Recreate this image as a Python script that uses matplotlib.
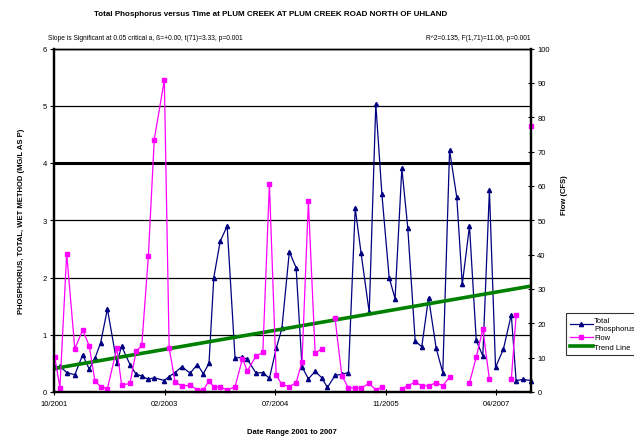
import numpy as np
import pandas as pd
import matplotlib
matplotlib.use("Agg")
import matplotlib.pyplot as plt
import matplotlib.dates as mdates
from matplotlib.lines import Line2D

plt.rcParams["font.family"] = ["Liberation Sans", "DejaVu Sans"]

# sample dates shared by both series
sample_dates = [
    "2001-10-04", "2001-10-28", "2001-11-28", "2002-01-04", "2002-02-09", "2002-03-11",
    "2002-04-06", "2002-05-02", "2002-06-02", "2002-07-15", "2002-08-06", "2002-09-13",
    "2002-10-11", "2002-11-06", "2002-12-06", "2003-01-02", "2003-02-17", "2003-03-11",
    "2003-04-07", "2003-05-08", "2003-06-15", "2003-07-18", "2003-08-14", "2003-09-09",
    "2003-10-01", "2003-10-30", "2003-12-01", "2004-01-06", "2004-02-09", "2004-03-02",
    "2004-04-11", "2004-05-12", "2004-06-11", "2004-07-12", "2004-08-07", "2004-09-10",
    "2004-10-11", "2004-11-07", "2004-12-06", "2005-01-06", "2005-02-05", "2005-03-03",
    "2005-04-07", "2005-05-08", "2005-06-07", "2005-07-08", "2005-08-04", "2005-09-10",
    "2005-10-10", "2005-11-07", "2005-12-10", "2006-01-06", "2006-02-06", "2006-03-05",
    "2006-04-08", "2006-05-08", "2006-06-08", "2006-07-13", "2006-08-12", "2006-09-12",
    "2006-10-15", "2006-11-09", "2006-12-12", "2007-01-12", "2007-02-11", "2007-03-13",
    "2007-04-10", "2007-05-16", "2007-06-21", "2007-07-13", "2007-08-13", "2007-09-19",
]

phosphorus = [
    0.43, 0.45, 0.34, 0.30, 0.65, 0.40, 0.59, 0.86, 1.45, 0.51, 0.80, 0.48,
    0.31, 0.28, 0.22, 0.25, 0.20, 0.27, 0.34, 0.44, 0.33, 0.48, 0.32, 0.50,
    2.00, 2.63, 2.90, 0.59, 0.61, 0.57, 0.33, 0.34, 0.24, 0.76, 1.11, 2.45,
    2.17, 0.44, 0.23, 0.36, 0.25, 0.08, 0.29, 0.31, 0.34, 3.21, 2.42, 1.39,
    5.03, 3.45, 2.00, 1.63, 3.91, 2.87, 0.89, 0.79, 1.65, 0.76, 0.34, 4.22,
    3.40, 1.88, 2.90, 0.90, 0.63, 3.53, 0.43, 0.75, 1.35, 0.20, 0.22, 0.20,
]

nan = np.nan
flow = [
    10.3, 1.3, 40.3, 12.6, 18.0, 13.4, 3.2, 1.6, 1.0, 12.7, 2.0, 2.5,
    11.8, 13.6, 39.5, 73.5, 90.8, 12.9, 3.0, 1.7, 2.0, 0.6, 0.6, 3.2,
    1.5, 1.5, 0.6, 1.5, 9.7, 6.1, 10.5, 11.5, 60.5, 4.9, 2.2, 1.6,
    2.7, 8.8, 55.5, 11.3, 12.6, nan, 21.4, 4.7, 1.2, 1.2, 1.2, 2.5,
    0.6, 1.5, nan, nan, 1.0, 1.8, 2.9, 1.8, 1.8, 2.7, 1.8, 4.4,
    nan, nan, 2.7, 10.2, 18.3, 3.7, nan, nan, 3.7, 22.3, nan, 77.3,
]

trend_dates = ["2001-10-01", "2007-09-19"]
trend_values = [0.41, 1.85]

tick_dates = ["2001-10-01", "2003-02-18", "2004-07-07", "2005-11-24", "2007-04-13"]
tick_labels = ["10/2001", "02/2003", "07/2004", "11/2005", "04/2007"]

dates = pd.to_datetime(sample_dates)
W, H = 634, 439
fig = plt.figure(figsize=(W / 100, H / 100), dpi=100)
ax = fig.add_axes([54 / W, 1 - 393 / H, 477 / W, 343.5 / H])
ax2 = ax.twinx()

blue = "#000080"
pink = "#FF00FF"
green = "#008000"

ax.set_ylim(0, 6)
ax.set_yticks(range(0, 7))
ax.grid(axis="y", color="black", linewidth=0.9)
ax.axhline(4, color="black", linewidth=2.2, zorder=1)
ax.set_axisbelow(True)

ax.plot(dates, phosphorus, color=blue, marker="^", markersize=3, linewidth=0.9,
        zorder=3, clip_on=False)
ax.plot(pd.to_datetime(trend_dates), trend_values, color=green, linewidth=2.6, zorder=4)

ax2.plot(dates, flow, color=pink, marker="s", markersize=2.8, linewidth=0.9, clip_on=False)
ax2.set_ylim(0, 100)
ax2.set_yticks(range(0, 101, 10))

ax.set_xlim(pd.Timestamp(trend_dates[0]), pd.Timestamp(trend_dates[1]))
ax.set_xticks(pd.to_datetime(tick_dates))
ax.set_xticklabels(tick_labels)

for a in (ax, ax2):
    for s in a.spines.values():
        s.set_linewidth(1.6)
        s.set_color("black")
    a.spines["top"].set_linewidth(1.0)

ax.tick_params(axis="y", direction="out", length=3, width=0.8, labelsize=5.5, pad=2)
ax.tick_params(axis="x", direction="inout", length=5, width=0.8, labelsize=5.5, pad=3)
ax2.tick_params(axis="y", direction="inout", length=5, width=0.8, labelsize=5.5, pad=2)

fig.text(271 / W, 1 - 14 / H,
         "Total Phosphorus versus Time at PLUM CREEK AT PLUM CREEK ROAD NORTH OF UHLAND",
         ha="center", va="center", fontsize=5.8, fontweight="bold")
fig.text(48 / W, 1 - 38 / H,
         "Slope is Significant at 0.05 critical a, \u00df=+0.00, t(71)=3.33, p=0.001",
         ha="left", va="center", fontsize=4.8)
fig.text(531 / W, 1 - 38 / H, "R^2=0.135, F(1,71)=11.06, p=0.001",
         ha="right", va="center", fontsize=4.8)
fig.text(22 / W, 1 - 221 / H, "PHOSPHORUS, TOTAL, WET METHOD (MG/L AS P)",
         rotation=90, ha="center", va="center", fontsize=5.5, fontweight="bold")
fig.text(565 / W, 1 - 195 / H, "Flow (CFS)", rotation=90,
         ha="center", va="center", fontsize=5.5, fontweight="bold")
fig.text(292 / W, 1 - 433 / H, "Date Range 2001 to 2007",
         ha="center", va="center", fontsize=5.5, fontweight="bold")

handles = [
    Line2D([], [], color=blue, marker="^", markersize=3, linewidth=0.9),
    Line2D([], [], color=pink, marker="s", markersize=2.8, linewidth=0.9),
    Line2D([], [], color=green, linewidth=2.6),
]
leg = fig.legend(handles, ["Total\nPhosphorus", "Flow", "Trend Line"],
                 loc="upper left", bbox_to_anchor=(566 / W, 1 - 314 / H),
                 fontsize=5.5, frameon=True, fancybox=False, handlelength=3,
                 handletextpad=0.2, borderpad=0.5, labelspacing=0.3, borderaxespad=0)
leg.get_frame().set_edgecolor("black")
leg.get_frame().set_linewidth(0.8)

fig.savefig("out.png", dpi=100)
